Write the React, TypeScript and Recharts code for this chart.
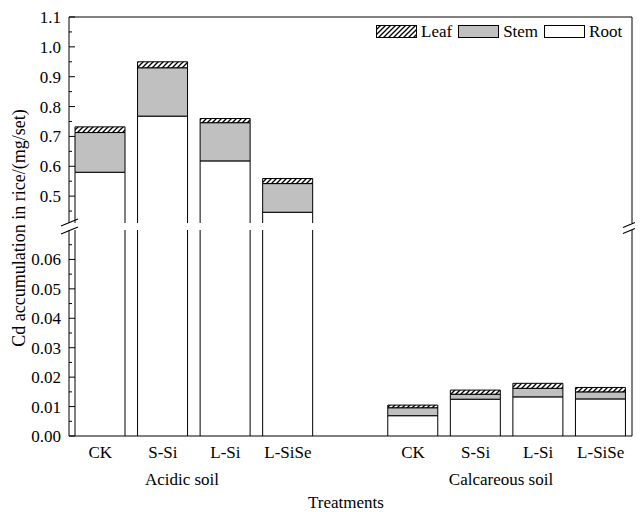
import * as React from "react";
import { BarChart, Bar, XAxis, YAxis, Legend } from "recharts";

// categories: 4 acidic, one empty slot, 4 calcareous
const soils = ["Acidic", "Acidic", "Acidic", "Acidic", "", "Calcareous", "Calcareous", "Calcareous", "Calcareous"];
const treatments = ["CK", "S-Si", "L-Si", "L-SiSe", "", "CK", "S-Si", "L-Si", "L-SiSe"];

// stacked parts (mg/set)
const rootValues = [0.58, 0.768, 0.618, 0.446, null, 0.0069, 0.0125, 0.0133, 0.0126];
const stemValues = [0.133, 0.162, 0.128, 0.096, null, 0.0027, 0.0017, 0.0029, 0.0024];
const leafValues = [0.019, 0.02, 0.014, 0.017, null, 0.0009, 0.0014, 0.0017, 0.0015];

const upperTicks = [0.45, 0.5, 0.55, 0.6, 0.65, 0.7, 0.75, 0.8, 0.85, 0.9, 0.95, 1.0, 1.05, 1.1];
const lowerTicks = [0, 0.005, 0.01, 0.015, 0.02, 0.025, 0.03, 0.035, 0.04, 0.045, 0.05, 0.055, 0.06, 0.065];

const upperDomain: [number, number] = [0.41, 1.1];
const lowerDomain: [number, number] = [0, 0.07];

const legendItems = [
  { name: "Leaf", fill: "url(#leafHatch)" },
  { name: "Stem", fill: "#c0c0c0" },
  { name: "Root", fill: "#ffffff" },
];

const FONT = "'Liberation Serif', 'Times New Roman', serif";

// plot bounds of the two halves (set by the margins below)
const UPPER = { top: 17, bottom: 223 };
const LOWER = { top: 230, bottom: 436 };

const rows = treatments.map((t, i) => ({
  id: `${soils[i]}|${t}|${i}`,
  root: rootValues[i],
  stem: stemValues[i],
  leaf: leafValues[i],
}));

const makeYTick = (digits: number, isMajor: (v: number) => boolean) => (props: any) => {
  const { x, y, payload } = props;
  const v = Number(payload.value);
  const major = isMajor(v);
  return (
    <g>
      <line x1={x} x2={x + (major ? 6 : 3)} y1={y} y2={y} stroke="#000" strokeWidth={1} />
      {major && (
        <text x={x - 8} y={y} dy="0.35em" textAnchor="end" fontSize={17} fontFamily={FONT} fill="#000">
          {v.toFixed(digits)}
        </text>
      )}
    </g>
  );
};

const upperTick = makeYTick(1, (v) => Math.round(v * 1000) % 100 === 0);
const lowerTick = makeYTick(2, (v) => Math.round(v * 10000) % 100 === 0);

// bar segment: no horizontal edge where it is cut by the axis break
const makeShape = (fill: string, bounds: { top: number; bottom: number }) => (props: any) => {
  const { x, y, width, height } = props;
  if (!height || Math.abs(height) < 0.5) return <g />;
  const top = Math.min(y, y + height);
  const bottom = Math.max(y, y + height);
  const openTop = top <= bounds.top + 0.5;
  const openBottom = bottom >= bounds.bottom - 0.5;
  return (
    <g>
      <rect x={x} y={top} width={width} height={bottom - top} fill={fill} />
      <line x1={x} x2={x} y1={top} y2={bottom} stroke="#000" />
      <line x1={x + width} x2={x + width} y1={top} y2={bottom} stroke="#000" />
      {!openTop && <line x1={x} x2={x + width} y1={top} y2={top} stroke="#000" />}
      {!openBottom && <line x1={x} x2={x + width} y1={bottom} y2={bottom} stroke="#000" />}
    </g>
  );
};

function LegendBox() {
  return (
    <div style={{ display: "flex", alignItems: "center", fontFamily: FONT, fontSize: 17, color: "#000" }}>
      {legendItems.map((it) => (
        <div key={it.name} style={{ display: "flex", alignItems: "center", marginRight: 6 }}>
          <svg width={41} height={13} style={{ display: "block" }}>
            <rect x={0.5} y={0.5} width={40} height={12} fill={it.fill} stroke="#000" />
          </svg>
          <span style={{ marginLeft: 4, lineHeight: "17px" }}>{it.name}</span>
        </div>
      ))}
    </div>
  );
}

function Bars(bounds: { top: number; bottom: number }) {
  return [
    <Bar key="root" dataKey="root" stackId="a" fill="#ffffff" barSize={50} shape={makeShape("#ffffff", bounds)} isAnimationActive={false} />,
    <Bar key="stem" dataKey="stem" stackId="a" fill="#c0c0c0" barSize={50} shape={makeShape("#c0c0c0", bounds)} isAnimationActive={false} />,
    <Bar key="leaf" dataKey="leaf" stackId="a" fill="url(#leafHatch)" barSize={50} shape={makeShape("url(#leafHatch)", bounds)} isAnimationActive={false} />,
  ];
}

export default function App() {
  return (
    <div style={{ position: "absolute", left: 0, top: 0, width: 641, height: 512, background: "#fff", fontFamily: FONT }}>
      <svg width={0} height={0} style={{ position: "absolute" }}>
        <defs>
          <pattern id="leafHatch" patternUnits="userSpaceOnUse" width={5} height={5}>
            <rect width={5} height={5} fill="#fff" />
            <path d="M0,5 L5,0 M-1,1 L1,-1 M4,6 L6,4" stroke="#000" strokeWidth={1.3} />
          </pattern>
        </defs>
      </svg>

      {/* upper segment of the broken axis */}
      <div style={{ position: "absolute", left: 0, top: 0 }}>
        <BarChart width={641} height={UPPER.bottom} data={rows} margin={{ top: UPPER.top - 1, right: 8, bottom: 0, left: 0 }}>
          <XAxis dataKey="id" orientation="top" height={1} tick={false} tickLine={false} axisLine={{ stroke: "#000" }} />
          <YAxis
            type="number"
            domain={upperDomain}
            allowDataOverflow
            ticks={upperTicks}
            interval={0}
            width={69}
            tickSize={0}
            tickMargin={0}
            tickLine={false}
            tick={upperTick}
            axisLine={{ stroke: "#000" }}
          />
          <YAxis yAxisId="r" orientation="right" width={1} tick={false} tickLine={false} axisLine={{ stroke: "#000" }} />
          {Bars(UPPER)}
          <Legend
            layout="horizontal"
            verticalAlign="middle"
            align="center"
            content={() => <LegendBox />}
            wrapperStyle={{ top: 23, left: 376, width: "auto", height: "auto" }}
          />
        </BarChart>
      </div>

      {/* lower segment */}
      <div style={{ position: "absolute", left: 0, top: 0 }}>
        <BarChart width={641} height={512} data={rows} margin={{ top: LOWER.top, right: 8, bottom: 512 - LOWER.bottom - 30, left: 0 }}>
          <XAxis
            dataKey="id"
            height={30}
            tickLine={false}
            tickSize={0}
            tickMargin={10}
            interval={0}
            tickFormatter={(v: string) => String(v).split("|")[1]}
            tick={{ fill: "#000", fontSize: 17, fontFamily: FONT }}
            axisLine={{ stroke: "#000" }}
          />
          <YAxis
            type="number"
            domain={lowerDomain}
            allowDataOverflow
            ticks={lowerTicks}
            interval={0}
            width={69}
            tickSize={0}
            tickMargin={0}
            tickLine={false}
            tick={lowerTick}
            axisLine={{ stroke: "#000" }}
          />
          <YAxis yAxisId="r" orientation="right" width={1} tick={false} tickLine={false} axisLine={{ stroke: "#000" }} />
          {Bars(LOWER)}
        </BarChart>
      </div>

      {/* titles and axis-break marks */}
      <svg width={641} height={512} style={{ position: "absolute", left: 0, top: 0, pointerEvents: "none" }}>
        <g stroke="#000" strokeWidth={1.2}>
          <line x1={61} y1={226} x2={78} y2={219} />
          <line x1={61} y1={234} x2={78} y2={227} />
          <line x1={623} y1={227.5} x2={635} y2={222.5} />
          <line x1={623} y1={233.5} x2={635} y2={228.5} />
        </g>
        <text
          x={19}
          y={228}
          transform="rotate(-90 19 228)"
          textAnchor="middle"
          dominantBaseline="central"
          fontSize={18}
          fontFamily={FONT}
          fill="#000"
        >
          Cd accumulation in rice/(mg/set)
        </text>
        <text x={182} y={485} textAnchor="middle" fontSize={17} fontFamily={FONT} fill="#000">
          Acidic soil
        </text>
        <text x={501} y={485} textAnchor="middle" fontSize={17} fontFamily={FONT} fill="#000">
          Calcareous soil
        </text>
        <text x={346} y={508} textAnchor="middle" fontSize={17} fontFamily={FONT} fill="#000">
          Treatments
        </text>
      </svg>
    </div>
  );
}
